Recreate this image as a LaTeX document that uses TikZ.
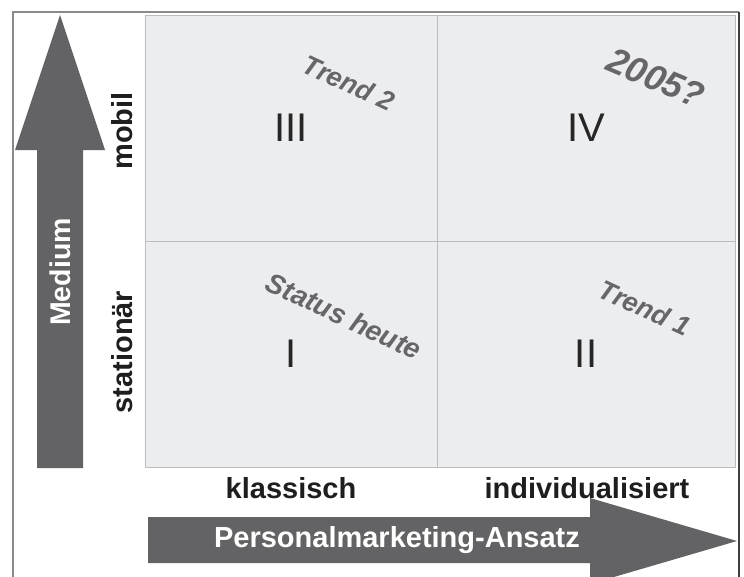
\documentclass[tikz,border=0pt]{standalone}
\usepackage{fontspec}
\setmainfont{Liberation Sans}
\definecolor{cellfill}{HTML}{ECEDEF}
\definecolor{cellline}{HTML}{BCBCBE}
\definecolor{arrowgray}{HTML}{636365}
\definecolor{trendgray}{HTML}{666668}
\definecolor{numeral}{HTML}{262626}
\definecolor{labeltext}{HTML}{1E1E1E}
\definecolor{framegray}{HTML}{8A8A8A}
\begin{document}
\begin{tikzpicture}[x=1pt,y=-1pt,
  cell/.style={draw=cellline, fill=cellfill, line width=1pt, inner sep=0pt,
    minimum height=226pt, text=numeral, font=\fontsize{40}{40}\selectfont},
  axislabel/.style={text=labeltext, font=\bfseries\fontsize{29}{29}\selectfont},
  arrowlabel/.style={text=white, font=\bfseries\fontsize{29}{29}\selectfont},
  trend/.style={text=trendgray, rotate=-25, font=\bfseries\itshape\fontsize{27}{27}\selectfont},
  bigarrow/.style={fill=arrowgray, draw=none}]
\useasboundingbox (0,0) rectangle (744,576);
\clip (0,0) rectangle (744,576);
\fill[white] (0,0) rectangle (744,576);

% outer frame (open at the bottom)
\draw[framegray, line width=1.3pt] (13,580) -- (13,12) -- (739,12);
\draw[black!75, line width=1.6pt] (739,12) -- (739,580);

% the four quadrants
\node[cell, minimum width=292pt] (q3) at (291,128) {III};
\node[cell, minimum width=298pt] (q4) at (586,128) {IV};
\node[cell, minimum width=292pt] (q1) at (291,354) {I};
\node[cell, minimum width=298pt] (q2) at (586,354) {II};

% vertical axis arrow
\fill[bigarrow] (37,468) -- (37,150) -- (15,150) -- (60,15) -- (105,150)
  -- (83,150) -- (83,468) -- cycle;
\node[arrowlabel, rotate=90, font=\bfseries\fontsize{28.5}{28.5}\selectfont] (medium) at (60,272) {Medium};

% horizontal axis arrow
\fill[bigarrow] (148,517) -- (590,517) -- (590,498) -- (737,541) -- (590,584)
  -- (590,563) -- (148,563) -- cycle;
\node[arrowlabel] (ansatz) at (397,540) {Personalmarketing-Ansatz};

% axis categories
\node[axislabel, rotate=90] (mobil) at (122,131) {mobil};
\node[axislabel, rotate=90] (stationaer) at (122,352) {stationär};
\node[axislabel] (klassisch) at (291,488) {klassisch};
\node[axislabel] (indiv) at (587,488) {individualisiert};

% development path
\node[trend] (trend2) at (349,83) {Trend 2};
\node[trend, rotate=2, font=\bfseries\itshape\fontsize{36}{36}\selectfont] (y2005) at (656,78) {2005?};
\node[trend, font=\bfseries\itshape\fontsize{28}{28}\selectfont] (status) at (344,316) {Status heute};
\node[trend] (trend1) at (645,308) {Trend 1};
\end{tikzpicture}
\end{document}
